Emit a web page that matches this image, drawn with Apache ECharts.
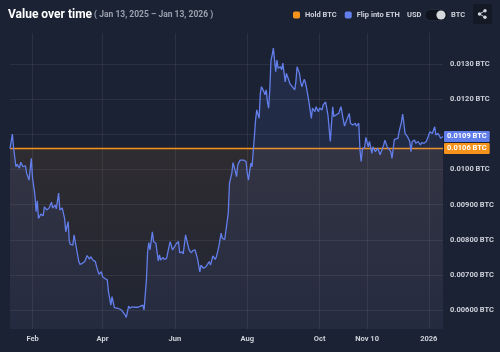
<!DOCTYPE html>
<html>
<head>
<meta charset="utf-8">
<title>Value over time</title>
<script src="https://cdn.jsdelivr.net/npm/echarts@6.0.0/dist/echarts.min.js"></script>
<style>
  html, body { margin: 0; padding: 0; background: #1b2233; }
  #chart { width: 500px; height: 352px; }
</style>
</head>
<body>
<div id="chart"></div>
<script>
// period
var startDate = '2025-01-13';
var endDate = '2026-01-13';

// hold BTC stays flat
var holdBtc = 0.0106;

// flip into ETH, value in BTC (day offset from start date)
var dayOffsets = [
  0, 2, 3, 4, 5, 6, 8, 9, 11, 13, 14, 16, 18, 19, 21, 22, 23, 24, 26, 28,
  29, 31, 33, 35, 36, 38, 39, 41, 42, 44, 46, 47, 49, 50, 51, 53, 54, 56, 58, 59,
  61, 63, 65, 67, 68, 70, 72, 73, 75, 77, 78, 80, 82, 83, 84, 85, 86, 88, 89, 91,
  92, 94, 95, 97, 98, 100, 101, 103, 105, 106, 108, 110, 111, 112, 113, 115, 116, 117, 118, 120,
  121, 123, 125, 126, 127, 129, 130, 132, 134, 135, 137, 139, 140, 142, 143, 145, 146, 148, 149, 151,
  153, 154, 156, 158, 160, 161, 163, 165, 166, 168, 169, 171, 173, 174, 176, 178, 179, 181, 182, 184,
  185, 187, 188, 190, 191, 192, 194, 195, 197, 199, 200, 201, 202, 203, 204, 205, 206, 207, 208, 210,
  211, 212, 214, 215, 216, 217, 218, 219, 220, 221, 222, 224, 225, 226, 228, 229, 230, 232, 233, 235,
  236, 238, 240, 241, 242, 244, 245, 246, 248, 249, 250, 252, 253, 254, 255, 257, 258, 260, 261, 263,
  264, 266, 267, 268, 270, 272, 273, 275, 277, 279, 281, 282, 284, 286, 287, 289, 291, 292, 294, 295,
  296, 297, 299, 300, 302, 303, 305, 306, 308, 310, 312, 313, 315, 316, 318, 319, 321, 322, 324, 325,
  327, 328, 330, 331, 332, 333, 334, 335, 337, 338, 339, 341, 342, 344, 346, 347, 349, 351, 352, 354,
  356, 358, 359, 361, 363, 365
];
var flipEth = [
  0.01060, 0.01101, 0.01062, 0.01059, 0.01008, 0.01015, 0.01004, 0.01021, 0.01008, 0.01011, 0.00990, 0.00970, 0.01032, 0.00975, 0.00928, 0.00880, 0.00911, 0.00861, 0.00873, 0.00869,
  0.00894, 0.00885, 0.00891, 0.00907, 0.00890, 0.00899, 0.00888, 0.00933, 0.00885, 0.00891, 0.00861, 0.00823, 0.00852, 0.00795, 0.00787, 0.00785, 0.00814, 0.00776, 0.00738, 0.00730,
  0.00733, 0.00738, 0.00755, 0.00745, 0.00752, 0.00742, 0.00738, 0.00723, 0.00702, 0.00709, 0.00695, 0.00690, 0.00686, 0.00652, 0.00634, 0.00614, 0.00638, 0.00607, 0.00611, 0.00605,
  0.00609, 0.00600, 0.00605, 0.00586, 0.00579, 0.00611, 0.00605, 0.00609, 0.00608, 0.00609, 0.00608, 0.00611, 0.00608, 0.00614, 0.00600, 0.00686, 0.00766, 0.00792, 0.00771, 0.00823,
  0.00795, 0.00790, 0.00740, 0.00757, 0.00742, 0.00750, 0.00744, 0.00747, 0.00780, 0.00795, 0.00771, 0.00782, 0.00788, 0.00795, 0.00763, 0.00766, 0.00760, 0.00814, 0.00809, 0.00771,
  0.00763, 0.00769, 0.00771, 0.00747, 0.00709, 0.00728, 0.00719, 0.00723, 0.00728, 0.00738, 0.00728, 0.00754, 0.00744, 0.00752, 0.00780, 0.00819, 0.00804, 0.00801, 0.00799, 0.00876,
  0.00961, 0.00990, 0.01020, 0.00994, 0.00980, 0.01013, 0.01027, 0.01032, 0.01027, 0.01023, 0.00990, 0.00970, 0.00994, 0.01018, 0.01008, 0.01051, 0.01094, 0.01141, 0.01170, 0.01146,
  0.01217, 0.01236, 0.01222, 0.01213, 0.01227, 0.01193, 0.01175, 0.01227, 0.01312, 0.01326, 0.01346, 0.01279, 0.01312, 0.01289, 0.01293, 0.01284, 0.01303, 0.01250, 0.01274, 0.01255,
  0.01244, 0.01236, 0.01227, 0.01250, 0.01293, 0.01274, 0.01250, 0.01236, 0.01257, 0.01248, 0.01232, 0.01193, 0.01189, 0.01146, 0.01175, 0.01165, 0.01179, 0.01165, 0.01175, 0.01170,
  0.01184, 0.01193, 0.01175, 0.01156, 0.01080, 0.01179, 0.01151, 0.01156, 0.01160, 0.01179, 0.01141, 0.01124, 0.01143, 0.01160, 0.01132, 0.01127, 0.01132, 0.01124, 0.01132, 0.01056,
  0.01023, 0.01056, 0.01065, 0.01092, 0.01065, 0.01080, 0.01046, 0.01065, 0.01051, 0.01061, 0.01042, 0.01037, 0.01070, 0.01084, 0.01065, 0.01070, 0.01051, 0.01032, 0.01086, 0.01089,
  0.01089, 0.01108, 0.01136, 0.01158, 0.01132, 0.01103, 0.01108, 0.01094, 0.01080, 0.01051, 0.01080, 0.01084, 0.01075, 0.01080, 0.01070, 0.01077, 0.01075, 0.01080, 0.01084, 0.01108,
  0.01103, 0.01122, 0.01099, 0.01103, 0.01089, 0.01094
];

// axis ticks
var xTickDates = ['2025-02-01', '2025-04-01', '2025-06-01', '2025-08-01', '2025-10-01', '2025-11-10', '2026-01-01'];
var xTickLabels = ['Feb', 'Apr', 'Jun', 'Aug', 'Oct', 'Nov 10', '2026'];
var yTicks = [0.006, 0.007, 0.008, 0.009, 0.010, 0.011, 0.012, 0.013];

// x axis runs in days since the start date
var DAY = 86400000;
var t0 = Date.parse(startDate);
var totalDays = Math.round((Date.parse(endDate) - t0) / DAY);
var xTicks = xTickDates.map(function (d) { return Math.round((Date.parse(d) - t0) / DAY); });

var flipData = dayOffsets.map(function (d, i) { return [d, flipEth[i]]; });
var holdData = [[0, holdBtc], [totalDays, holdBtc]];

function fmtBtc(v) {
  return (v >= 0.0099999 ? v.toFixed(4) : v.toFixed(5)) + ' BTC';
}

var labelColor = '#cdd1d9';
var gridColor = 'rgba(255,255,255,0.07)';

var chart = echarts.init(document.getElementById('chart'));
chart.setOption({
  backgroundColor: '#1b2233',
  animation: false,
  title: {
    left: 3,
    top: 4,
    text: '{a|Value over time}{b| ( Jan 13, 2025 – Jan 13, 2026 )}',
    textStyle: {
      rich: {
        a: { fontFamily: 'Roboto', fontSize: 12, fontWeight: 'bold', color: '#ffffff' },
        b: { fontFamily: 'Roboto', fontSize: 8.5, color: '#9aa1ad' }
      }
    }
  },
  legend: {
    left: 293,
    top: 11,
    padding: 0,
    itemWidth: 7,
    itemHeight: 7,
    itemGap: 8,
    icon: 'roundRect',
    textStyle: { color: labelColor, fontFamily: 'Roboto', fontSize: 7.5, fontWeight: 'bold' },
    data: ['Hold BTC', 'Flip into ETH']
  },
  grid: { left: 10, right: 57, top: 33, bottom: 23, outerBoundsMode: 'none' },
  xAxis: {
    type: 'value',
    min: 0,
    max: totalDays,
    axisLine: { show: false },
    axisTick: { show: false, customValues: xTicks },
    splitLine: { show: true, lineStyle: { color: gridColor, width: 1 } },
    axisLabel: {
      customValues: xTicks,
      margin: 6,
      color: labelColor,
      fontFamily: 'Roboto',
      fontSize: 7.5,
      fontWeight: 'bold',
      formatter: function (v) {
        var i = xTicks.indexOf(Math.round(v));
        return i >= 0 ? xTickLabels[i] : '';
      }
    }
  },
  yAxis: {
    type: 'value',
    position: 'right',
    min: 0.00546,
    max: 0.01389,
    axisLine: { show: false },
    axisTick: { show: false, customValues: yTicks },
    splitLine: { show: true, lineStyle: { color: gridColor, width: 1 } },
    axisLabel: {
      customValues: yTicks,
      margin: 7,
      color: labelColor,
      fontFamily: 'Roboto',
      fontSize: 7.5,
      fontWeight: 'bold',
      formatter: fmtBtc
    }
  },
  series: [
    {
      name: 'Hold BTC',
      type: 'line',
      data: holdData,
      showSymbol: false,
      z: 3,
      color: '#F7931A',
      lineStyle: { color: '#F7931A', width: 1.4 },
      areaStyle: {
        color: new echarts.graphic.LinearGradient(0, 0, 0, 1, [
          { offset: 0, color: 'rgba(247,147,26,0.13)' },
          { offset: 1, color: 'rgba(247,147,26,0.03)' }
        ])
      },
      endLabel: {
        show: true,
        distance: 1,
        formatter: function (p) { return fmtBtc(p.value[1]); },
        backgroundColor: '#F7931A',
        color: '#ffffff',
        fontFamily: 'Roboto',
        fontSize: 7.5,
        fontWeight: 'bold',
        padding: [2, 3, 1, 3],
        borderRadius: 1
      }
    },
    {
      name: 'Flip into ETH',
      type: 'line',
      data: flipData,
      showSymbol: false,
      z: 4,
      color: '#627EEA',
      lineStyle: { color: '#627EEA', width: 1.3 },
      areaStyle: {
        color: new echarts.graphic.LinearGradient(0, 0, 0, 1, [
          { offset: 0, color: 'rgba(98,126,234,0.16)' },
          { offset: 1, color: 'rgba(98,126,234,0.10)' }
        ])
      },
      endLabel: {
        show: true,
        distance: 1,
        formatter: function (p) { return fmtBtc(p.value[1]); },
        backgroundColor: '#627EEA',
        color: '#ffffff',
        fontFamily: 'Roboto',
        fontSize: 7.5,
        fontWeight: 'bold',
        padding: [2, 3, 1, 3],
        borderRadius: 1
      }
    }
  ],
  graphic: [
    { type: 'text', x: 407, y: 15, style: { text: 'USD', fill: labelColor, font: 'bold 7.5px Roboto', verticalAlign: 'middle' } },
    { type: 'rect', shape: { x: 425, y: 9.5, width: 23, height: 11, r: 5.5 }, style: { fill: '#0f141e', stroke: '#2a3245', lineWidth: 0.6 } },
    { type: 'circle', shape: { cx: 441, cy: 15, r: 4.6 }, style: { fill: '#d4d7dc' } },
    { type: 'text', x: 451, y: 15, style: { text: 'BTC', fill: labelColor, font: 'bold 7.5px Roboto', verticalAlign: 'middle' } },
    { type: 'rect', shape: { x: 473, y: 4, width: 19, height: 20, r: 3 }, style: { fill: '#131925' } },
    { type: 'line', shape: { x1: 479.5, y1: 14, x2: 485, y2: 10.8 }, style: { stroke: '#d4d7dc', lineWidth: 0.9 } },
    { type: 'line', shape: { x1: 479.5, y1: 14, x2: 485, y2: 17.2 }, style: { stroke: '#d4d7dc', lineWidth: 0.9 } },
    { type: 'circle', shape: { cx: 479.5, cy: 14, r: 1.7 }, style: { fill: '#d4d7dc' } },
    { type: 'circle', shape: { cx: 485, cy: 10.8, r: 1.7 }, style: { fill: '#d4d7dc' } },
    { type: 'circle', shape: { cx: 485, cy: 17.2, r: 1.7 }, style: { fill: '#d4d7dc' } }
  ]
});
</script>
</body>
</html>
